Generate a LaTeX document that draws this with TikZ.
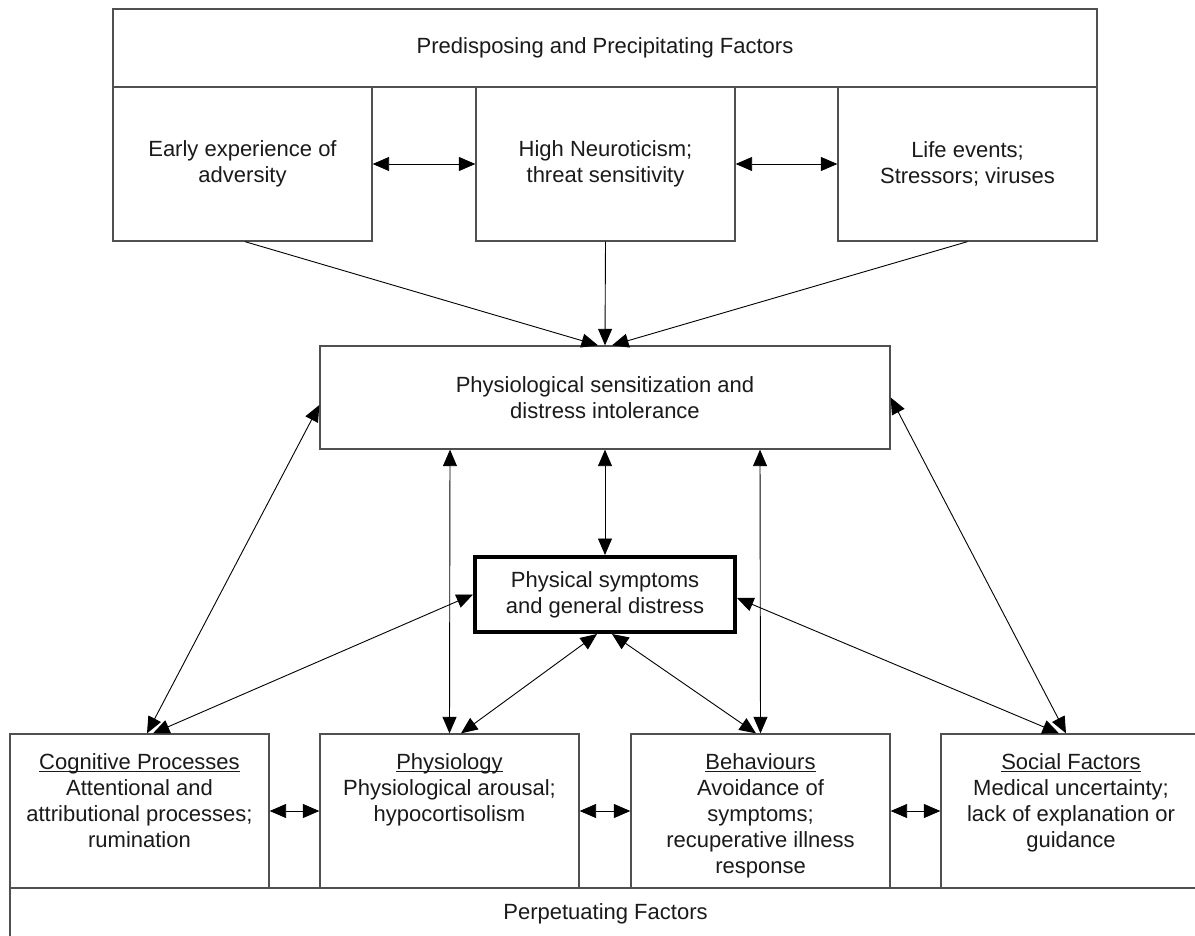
\documentclass[tikz,border=0pt]{standalone}
\usepackage{fontspec}
\setmainfont{Liberation Sans}
\usetikzlibrary{arrows.meta}
\definecolor{boxgray}{HTML}{505050}
\definecolor{txt}{HTML}{1A1A1A}
\newcommand\myul[1]{\setbox0\hbox{#1}\rlap{\rule[-3pt]{\wd0}{1.1pt}}\box0}
\begin{document}
\begin{tikzpicture}[x=1pt,y=-1pt,
  font=\fontsize{22}{26}\selectfont, text=txt,
  box/.style={draw=boxgray, line width=1.3pt, inner sep=0pt, align=center},
  thickbox/.style={draw=black, line width=4pt, inner sep=0pt, align=center},
  lbl/.style={inner sep=0pt, align=center},
  tip/.tip={Triangle[length=16.5pt,width=14pt]},
  both/.style={draw=black, line width=0.9pt, {tip}-{tip}},
  one/.style={draw=black, line width=0.9pt, -{tip}}]
\useasboundingbox (0,0) rectangle (1195,936);
\fill[white] (0,0) rectangle (1195,936);
% top group
\node[box, minimum width=984pt, minimum height=78pt] (pre) at (605,48) {Predisposing and Precipitating Factors};
\node[box, minimum width=259pt, minimum height=154pt] (early) at (242.5,164) {Early experience of\\adversity};
\node[box, minimum width=259pt, minimum height=154pt] (neuro) at (605.5,164) {High Neuroticism;\\threat sensitivity};
\node[box, minimum width=259pt, minimum height=154pt] (life) at (967.5,164) {Life events;\\Stressors; viruses};
% middle
\node[box, minimum width=570pt, minimum height=103pt] (ps) at (605,397.5) {Physiological sensitization and\\distress intolerance};
\node[thickbox, minimum width=260pt, minimum height=75pt] (sym) at (605,594.5) {Physical symptoms\\and general distress};
% bottom
\node[box, minimum width=1191pt, minimum height=52pt] (perp) at (605.5,914) {Perpetuating Factors};
\node[box, minimum width=259pt, minimum height=154pt] (cog) at (139.5,811) {};
\node[box, minimum width=259pt, minimum height=154pt] (phy) at (449.5,811) {};
\node[box, minimum width=259pt, minimum height=154pt] (beh) at (760.5,811) {};
\node[box, minimum width=260pt, minimum height=154pt] (soc) at (1071,811) {};
\node[lbl, anchor=north] (cogt) at (139.5,753) {\myul{Cognitive Processes}\\Attentional and\\attributional processes;\\rumination};
\node[lbl, anchor=north] (phyt) at (449.5,753) {\myul{Physiology}\\Physiological arousal;\\hypocortisolism};
\node[lbl, anchor=north] (beht) at (760.5,753) {\myul{Behaviours}\\Avoidance of\\symptoms;\\recuperative illness\\response};
\node[lbl, anchor=north] (soct) at (1071,753) {\myul{Social Factors}\\Medical uncertainty;\\lack of explanation or\\guidance};
% connectors top
\draw[both] (early.east) -- (neuro.west);
\draw[both] (neuro.east) -- (life.west);
\draw[one] ([xshift=2.5pt]early.south) -- ([xshift=-7pt]ps.north);
\draw[one] (neuro.south) -- (ps.north);
\draw[one] (life.south) -- ([xshift=7pt]ps.north);
% ps links
\draw[both] ([yshift=-7.5pt]ps.west) -- ([xshift=7.5pt]cog.north);
\draw[both] ([xshift=-155pt]ps.south) -- (phy.north);
\draw[both] (ps.south) -- (sym.north);
\draw[both] ([xshift=155pt]ps.south) -- (beh.north);
\draw[both] (ps.east) -- ([xshift=-5pt]soc.north);
% symptoms links
\draw[both] (sym.west) -- ([xshift=13.5pt]cog.north);
\draw[both] ([xshift=-8pt]sym.south) -- ([xshift=11.5pt]phy.north);
\draw[both] ([xshift=7pt]sym.south) -- ([xshift=-4.5pt]beh.north);
\draw[both] ([yshift=-3.5pt]sym.east) -- ([xshift=-12pt]soc.north);
% bottom row
\draw[both] (cog.east) -- (phy.west);
\draw[both] (phy.east) -- (beh.west);
\draw[both] (beh.east) -- (soc.west);
\end{tikzpicture}
\end{document}
